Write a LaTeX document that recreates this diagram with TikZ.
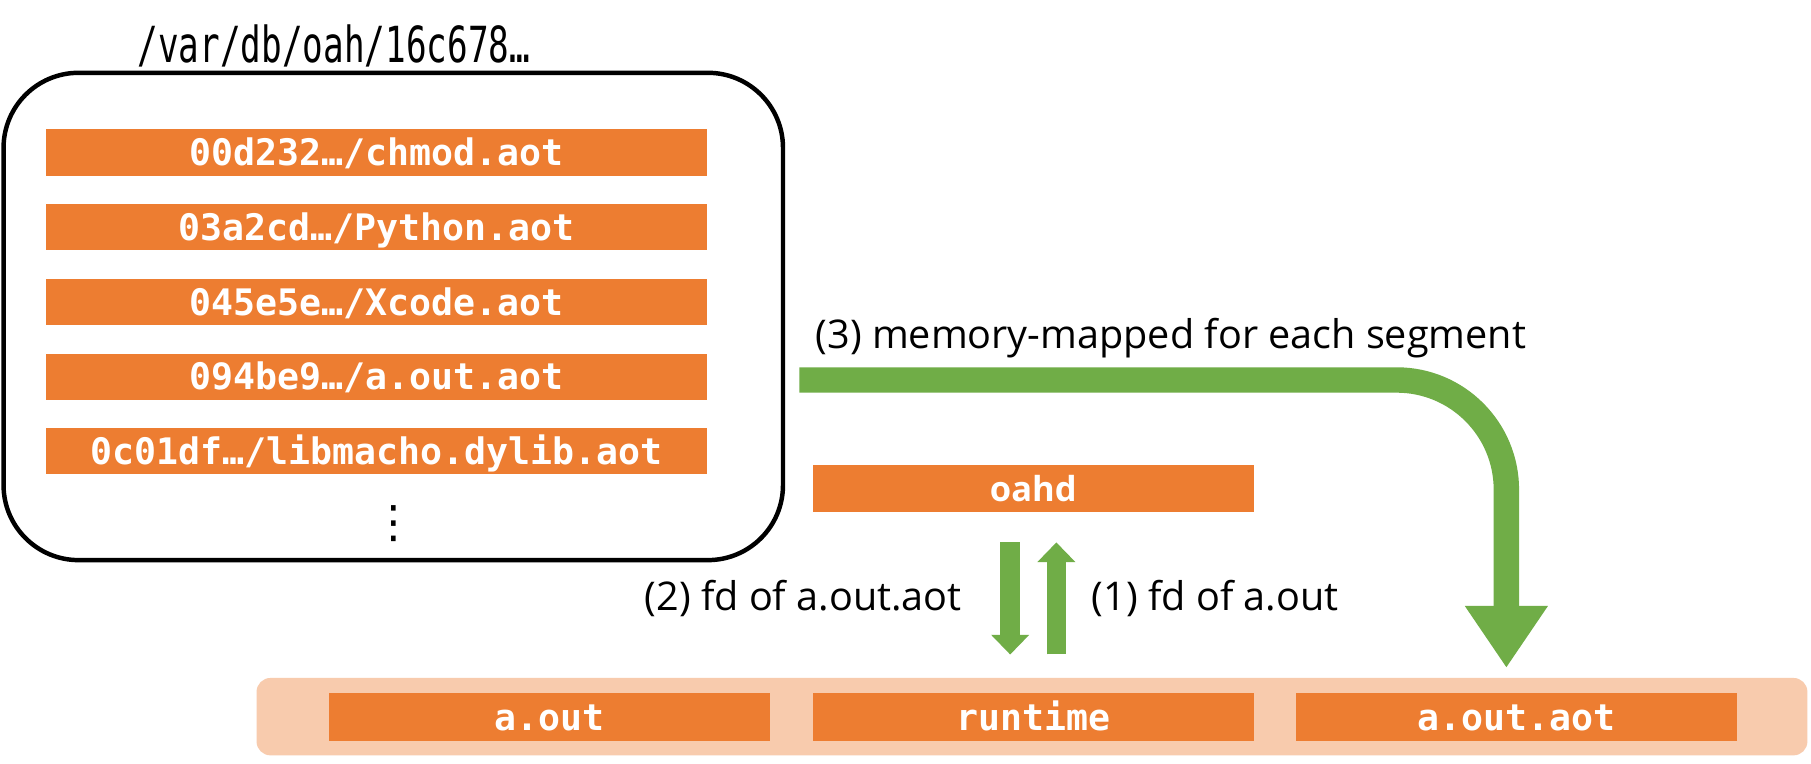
\documentclass[tikz,border=0pt]{standalone}
\usepackage{fontspec}
\setmainfont{Open Sans}
\newfontfamily\monobold{DejaVu Sans Mono}
\newfontfamily\pathfont[FakeStretch=0.69]{DejaVu Sans Mono}
\newfontfamily\symfont{DejaVu Sans}
\usetikzlibrary{positioning,arrows.meta}
\definecolor{og}{RGB}{237,125,49}
\definecolor{pc}{RGB}{248,203,173}
\definecolor{gr}{RGB}{112,173,71}
\tikzset{
  seg/.style={fill=og,text=white,inner sep=0,minimum height=0.8cm,
    font=\monobold\bfseries\fontsize{18}{20}\selectfont,text height=13pt,text depth=0pt},
  lbl/.style={font=\fontsize{19.5}{22}\selectfont,inner sep=0},
  fdarrow/.style={gr,line width=0.34cm,-{Triangle[length=0.34cm,width=0.66cm,line width=0pt]}},
}
\begin{document}
\begin{tikzpicture}[x=0.02cm,y=-0.02cm]
\fill[white](0,0)rectangle(1568,661);
\useasboundingbox(0,0)rectangle(1568,661);
\node[anchor=base,font=\pathfont\fontsize{24.5}{26}\selectfont,inner sep=0](dir)at(289,54){/var/db/oah/16c678…};
\node[draw,line width=2.2pt,rounded corners=1.3cm,minimum width=13.5cm,minimum height=8.44cm](cache)at(340.5,274){};
\node[seg,minimum width=11.44cm](f1)at(326,132){00d232…/chmod.aot};
\node[seg,minimum width=11.44cm,below=0.48cm of f1](f2){03a2cd…/Python.aot};
\node[seg,minimum width=11.44cm,below=0.48cm of f2](f3){045e5e…/Xcode.aot};
\node[seg,minimum width=11.44cm,below=0.48cm of f3](f4){094be9…/a.out.aot};
\node[seg,minimum width=11.44cm,below=0.48cm of f4](f5){0c01df…/libmacho.dylib.aot};
\node[font=\symfont\fontsize{22}{26}\selectfont,inner sep=0](dots)at(341,453){⋮};
\node[fill=pc,rounded corners=0.24cm,minimum width=26.86cm,minimum height=1.34cm](proc)at(893.5,620.5){};
\node[seg,minimum width=7.64cm,minimum height=0.84cm](aout)at(476,621){a.out};
\node[seg,minimum width=7.64cm,minimum height=0.84cm,right=0.72cm of aout](rt){runtime};
\node[seg,minimum width=7.64cm,minimum height=0.84cm,right=0.72cm of rt](aot){a.out.aot};
\node[seg,minimum width=7.64cm,minimum height=0.82cm,above=3.12cm of rt,font=\bfseries\fontsize{17}{20}\selectfont](oahd){oahd};
\coordinate(mapfrom)at(692,329);
\draw[gr,line width=0.44cm,rounded corners=1.9cm,-{Triangle[length=1.06cm,width=1.44cm,line width=0pt]}](mapfrom)-|([xshift=-0.18cm,yshift=0.44cm]aot.north);
\node[lbl,anchor=base west](maplbl)at(706,302){(3) memory-mapped for each segment};
\draw[fdarrow]([xshift=-0.4cm,yshift=-0.52cm]oahd.south)--([xshift=-0.4cm,yshift=0.66cm]rt.north);
\draw[fdarrow]([xshift=0.4cm,yshift=0.66cm]rt.north)--([xshift=0.4cm,yshift=-0.52cm]oahd.south);
\node[lbl,anchor=base east](fdaot)at(833,529){(2) fd of a.out.aot};
\node[lbl,anchor=base west](fdout)at(945,529){(1) fd of a.out};
\end{tikzpicture}
\end{document}
